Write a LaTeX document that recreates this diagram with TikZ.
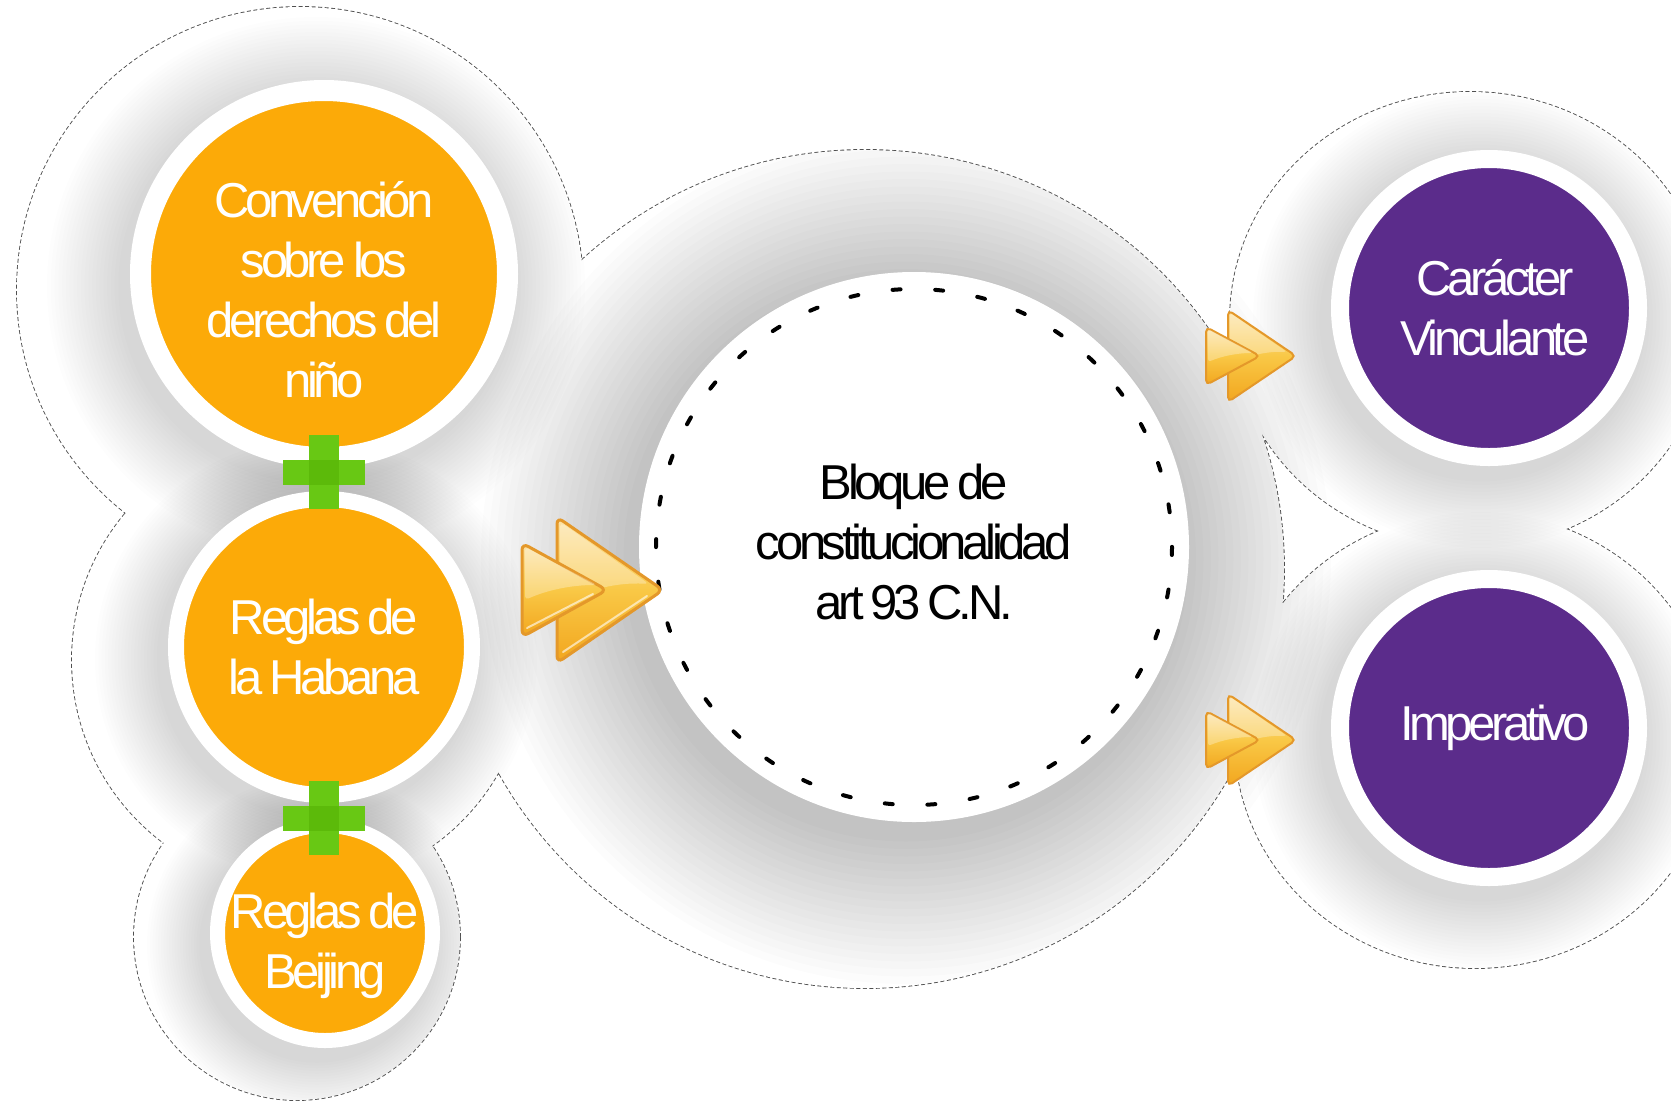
\documentclass[tikz,border=0pt]{standalone}
\usepackage{fontspec}
\setmainfont{Liberation Sans}[LetterSpace=-8.8, WordSpace=0.75]
\usetikzlibrary{calc}
\definecolor{orangeC}{RGB}{252,170,8}
\definecolor{purpleC}{RGB}{91,44,139}
\definecolor{greenC}{RGB}{104,200,20}
\definecolor{greenD}{RGB}{92,186,10}
\definecolor{arrLight}{RGB}{253,228,170}
\definecolor{arrMid}{RGB}{249,200,70}
\definecolor{arrDark}{RGB}{242,166,30}
\definecolor{arrEdge}{RGB}{228,152,42}
\definecolor{blobLine}{RGB}{80,80,80}
\newcommand{\bigfont}{\fontsize{49}{60}\selectfont}
\tikzset{
  disk/.style={circle, inner sep=0pt, align=center, text=white, font=\bigfont, draw=white},
  gloss/.style={arrEdge, top color=arrLight, bottom color=arrDark, middle color=arrMid},
  ffwd/.pic={
    \draw[gloss, line width=3pt, rounded corners=7pt]
      (0,0) -- (0,-73) -- (106,0) -- (0,73) -- cycle;
    \fill[white, opacity=0.3, rounded corners=5pt] (3,-68) -- (92,-6) .. controls (60,-8) and (30,0) .. (3,14) -- cycle;
    \draw[white, opacity=0.6, line width=2pt, line cap=round] (6,62) -- (90,6);
    \draw[gloss, line width=3pt, rounded corners=7pt]
      (-35,0) -- (-35,-47) -- (50,0) -- (-35,47) -- cycle;
    \fill[white, opacity=0.3, rounded corners=4pt] (-32,-43) -- (40,-5) .. controls (15,-5) and (-10,0) .. (-32,10) -- cycle;
    \draw[white, opacity=0.6, line width=2pt, line cap=round] (-30,38) -- (36,4);
  },
  ffwdsmall/.pic={
    \draw[gloss, line width=2pt, rounded corners=5pt]
      (0,0) -- (0,-46) -- (68,0) -- (0,46) -- cycle;
    \fill[white, opacity=0.3, rounded corners=3pt] (2,-43) -- (59,-4) .. controls (38,-5) and (19,0) .. (2,9) -- cycle;
    \draw[gloss, line width=2pt, rounded corners=5pt]
      (-22,0) -- (-22,-29) -- (32,0) -- (-22,29) -- cycle;
    \fill[white, opacity=0.3, rounded corners=3pt] (-20,-27) -- (25,-3) .. controls (10,-3) and (-6,0) .. (-20,6) -- cycle;
  },
  plussign/.pic={
    \fill[greenC] (-15,-37) rectangle (15,37);
    \fill[greenC] (-41,-12) rectangle (41,13);
    \fill[greenD] (-15,-12) rectangle (15,13);
  }
}
\begin{document}
\begin{tikzpicture}[x=1pt,y=-1pt]
\useasboundingbox (0,0) rectangle (1671,1104);
\clip (0,0) rectangle (1671,1104);
\fill[white] (0,0) rectangle (1671,1104);
% blob outline
\draw[blobLine, line width=1.8pt, dash pattern=on 4pt off 2.5pt]
  (300,290) circle (283) (300,660) circle (228) (297,937) circle (163)
  (865,569) circle (419) (1470,320) ellipse (240 and 228) (1475,740) ellipse (240 and 228);
\fill[white]
  (300,290) circle (283) (300,660) circle (228) (297,937) circle (163)
  (865,569) circle (419) (1470,320) ellipse (240 and 228) (1475,740) ellipse (240 and 228);
% shadows
\begin{scope}
\clip (300,290) circle (283) (300,660) circle (228) (297,937) circle (163)
  (865,569) circle (419) (1470,320) ellipse (240 and 228) (1475,740) ellipse (240 and 228);
\foreach \cx/\cy/\r/\s/\o in {324/274/194/75/0.008, 324/647/156/65/0.008, 325/933/115/55/0.008, 914/547/275/150/0.011, 1489/308/158/70/0.007, 1489/728/158/70/0.007}{
  \foreach \k in {1,...,20}{
    \fill[black, opacity=\o] ({\cx-8},{\cy+12}) circle ({\r+\k*\s/20});
  }
}
\end{scope}
% circles
\node[disk, fill=orangeC, minimum size=367pt, line width=21pt] (c1) at (324,274)
  {\rule{0pt}{68pt}Convención\\sobre los\\derechos del\\niño};
\node[disk, fill=orangeC, minimum size=296pt, line width=16pt] (c2) at (324,647)
  {Reglas de\\la Habana};
\node[disk, fill=orangeC, minimum size=215pt, line width=15pt, inner sep=-14pt] (c3) at (325,933)
  {\rule{0pt}{62pt}Reglas de\\Beijing};
\node[circle, fill=white, inner sep=0pt, minimum size=550pt, align=center, font=\bigfont] (bloque) at (914,547)
  {Bloque de\\constitucionalidad\\art 93 C.N.\rule[-10pt]{0pt}{10pt}};
\node[disk, fill=purpleC, minimum size=298pt, line width=18pt] (v1) at (1489,308)
  {\hspace*{12pt}Carácter\\\hspace*{12pt}Vinculante};
\node[disk, fill=purpleC, minimum size=298pt, line width=18pt] (v2) at (1489,728)
  {\hspace*{12pt}Imperativo};
\draw[black, line width=4pt, line cap=round, dash pattern=on 8pt off 34.66pt] (bloque.center) circle (258);
% plus signs
\pic at (324,472) {plussign};
\pic at (324,818) {plussign};
% arrows
\pic at (557,590) {ffwd};
\pic at (1228,356) {ffwdsmall};
\pic at (1228,740) {ffwdsmall};
\end{tikzpicture}
\end{document}
